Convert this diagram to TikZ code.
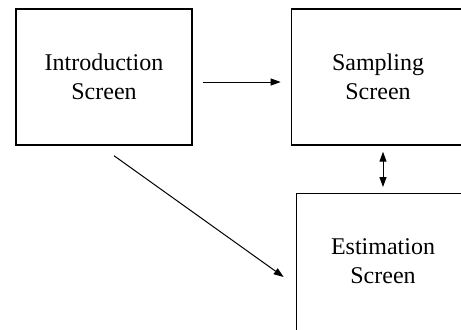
\documentclass[tikz,border=0pt]{standalone}
\usepackage{fontspec}
\setmainfont{Liberation Serif}
\usetikzlibrary{arrows.meta}

\tikzset{screen/.style={draw, line width=0.7pt, minimum width=88pt, minimum height=68pt},
  caption/.style={align=center, font=\fontsize{12}{14.5}\selectfont}}

\begin{document}
\begin{tikzpicture}[x=0.5pt, y=-0.5pt, >={Triangle[length=5pt,width=3.5pt]}, line width=0.5pt]
\useasboundingbox (0,0) rectangle (461,329);
\clip (0,0) rectangle (461,329);
% boxes (the right ones run past the border)
\node[screen](intro) at (104,77) {};
\node[screen, minimum width=130pt, anchor=west](sampling) at (290.7,77) {};
\node[screen, minimum width=130pt, minimum height=80pt, anchor=north west](estim) at (295.7,193) {};
% texts
\node[caption](introtext) at (intro) {Introduction\\Screen};
\node[caption](samplingtext) at (378,77) {Sampling\\Screen};
\node[caption](estimtext) at (383,261) {Estimation\\Screen};

\draw[->, shorten <=5pt, shorten >=5pt] ([yshift=-2.5pt]intro.east) -- ([yshift=-2.5pt]sampling.west);
\draw[->] ([shift={(10,10)}]intro.south) -- ([shift={(-12,84)}]estim.north west);
\draw[<->, shorten <=3pt, shorten >=3pt] (estimtext |- estim.north) -- (estimtext |- sampling.south);
\end{tikzpicture}
\end{document}
